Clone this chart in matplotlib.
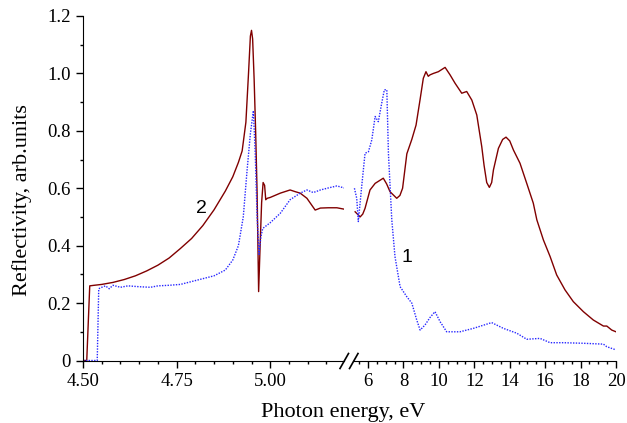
import matplotlib

matplotlib.use("Agg")
import matplotlib.pyplot as plt
import numpy as np
from matplotlib.lines import Line2D
from matplotlib.ticker import MultipleLocator, FixedLocator

# curve 2 (red), fine scale 4.5-5.2 eV
red_e_left = [4.500, 4.510, 4.518, 4.530, 4.550, 4.580, 4.610, 4.640, 4.670, 4.700,
              4.730, 4.760, 4.790, 4.820, 4.850, 4.880, 4.900, 4.915, 4.925, 4.935,
              4.942, 4.947, 4.950, 4.953, 4.957, 4.961, 4.965, 4.969, 4.973, 4.977,
              4.981, 4.985, 4.988, 4.992, 5.000, 5.027, 5.053, 5.067, 5.080, 5.098,
              5.120, 5.134, 5.155, 5.178, 5.198]
red_r_left = [0.0, 0.0, 0.26, 0.262, 0.265, 0.272, 0.282, 0.295, 0.312, 0.332,
              0.357, 0.39, 0.425, 0.47, 0.525, 0.59, 0.64, 0.69, 0.73, 0.83,
              1.00, 1.13, 1.15, 1.12, 0.98, 0.80, 0.58, 0.24, 0.40, 0.55,
              0.62, 0.61, 0.56, 0.565, 0.568, 0.583, 0.594, 0.588, 0.583, 0.565,
              0.524, 0.531, 0.532, 0.532, 0.527]

# curve 1 (blue), fine scale
blue_e_left = [4.500, 4.538, 4.542, 4.550, 4.560, 4.570, 4.580, 4.600, 4.620, 4.650,
               4.680, 4.700, 4.730, 4.760, 4.790, 4.820, 4.850, 4.880, 4.900, 4.915,
               4.928, 4.938, 4.947, 4.955, 4.960, 4.965, 4.970, 4.975, 4.980, 4.990,
               5.000, 5.027, 5.053, 5.080, 5.098, 5.115, 5.134, 5.155, 5.178, 5.198]
blue_r_left = [0.0, 0.0, 0.25, 0.255, 0.26, 0.25, 0.262, 0.255, 0.26, 0.257,
               0.255, 0.26, 0.262, 0.265, 0.275, 0.285, 0.295, 0.315, 0.35, 0.40,
               0.50, 0.66, 0.79, 0.87, 0.72, 0.50, 0.37, 0.43, 0.46, 0.47,
               0.48, 0.513, 0.56, 0.583, 0.594, 0.585, 0.594, 0.601, 0.608, 0.601]

# curve 2 (red), coarse scale 5.2-20 eV
red_e_right = [5.27, 5.40, 5.55, 5.70, 5.83, 6.11, 6.40, 6.86, 7.05, 7.24, 7.62, 7.80,
               7.95, 8.19, 8.47, 8.71, 8.94, 9.12, 9.27, 9.40, 9.50, 9.69, 9.97, 10.35,
               10.63, 10.91, 11.29, 11.57, 11.86, 12.14, 12.42, 12.55, 12.70, 12.85,
               12.98, 13.08, 13.36, 13.60, 13.79, 14.00, 14.21, 14.58, 14.96, 15.33,
               15.53, 15.90, 16.28, 16.65, 17.12, 17.59, 18.16, 18.72, 19.29, 19.48,
               19.76, 20.0]
red_r_right = [0.518, 0.51, 0.50, 0.51, 0.53, 0.594, 0.617, 0.635, 0.615, 0.588,
               0.565, 0.575, 0.60, 0.72, 0.77, 0.82, 0.91, 0.983, 1.006, 0.99,
               0.995, 1.0, 1.006, 1.021, 0.995, 0.966, 0.931, 0.937, 0.907, 0.855,
               0.745, 0.68, 0.62, 0.603, 0.62, 0.664, 0.739, 0.77, 0.778, 0.765,
               0.733, 0.687, 0.617, 0.548, 0.49, 0.42, 0.362, 0.298, 0.246, 0.205,
               0.17, 0.141, 0.12, 0.12, 0.106, 0.10]

# curve 1 (blue), coarse scale
blue_e_right = [5.23, 5.36, 5.45, 5.64, 5.83, 6.02, 6.21, 6.40, 6.58, 6.77,
                6.92, 7.06, 7.15, 7.34, 7.52, 7.81, 8.19, 8.47, 8.75, 8.94,
                9.22, 9.50, 9.78, 10.07, 10.44, 11.19, 11.95, 12.98, 13.64, 14.40,
                14.96, 15.71, 16.28, 17.03, 18.16, 19.29, 19.48, 20.0]
blue_r_right = [0.60, 0.565, 0.484, 0.606, 0.722, 0.727, 0.768, 0.85, 0.832, 0.896,
                0.943, 0.943, 0.722, 0.49, 0.362, 0.257, 0.222, 0.2, 0.141, 0.106,
                0.124, 0.15, 0.17, 0.135, 0.10, 0.10, 0.112, 0.132, 0.112, 0.095,
                0.074, 0.077, 0.062, 0.062, 0.06, 0.057, 0.048, 0.037]

left_ticks = [4.50, 4.75, 5.00]
left_labels = ["4.50", "4.75", "5.00"]
right_ticks = [6, 8, 10, 12, 14, 16, 18, 20]
y_ticks = [0, 0.2, 0.4, 0.6, 0.8, 1.0, 1.2]
y_labels = ["0", "0.2", "0.4", "0.6", "0.8", "1.0", "1.2"]

RED = "#800000"
BLUE = "#2828ff"
SERIF = ["Liberation Serif", "DejaVu Serif"]

W, H = 627, 423
fig = plt.figure(figsize=(W / 100, H / 100), dpi=100)


def px_rect(x0, x1, y_top, y_bot):
    return [x0 / W, 1 - y_bot / H, (x1 - x0) / W, (y_bot - y_top) / H]


ax_l = fig.add_axes(px_rect(83, 344, 16, 360.5))
ax_r = fig.add_axes(px_rect(353, 616, 16, 360.5))

ax_l.plot(red_e_left, red_r_left, color=RED, lw=1.0)
ax_l.plot(blue_e_left, blue_r_left, color=BLUE, lw=1.0, ls=(0, (1, 1)))
ax_r.plot(red_e_right, red_r_right, color=RED, lw=1.0)
ax_r.plot(blue_e_right, blue_r_right, color=BLUE, lw=1.0, ls=(0, (1, 1)))

ax_l.set_xlim(4.5, 5.197)
ax_r.set_xlim(5.15, 20)
for ax in (ax_l, ax_r):
    ax.set_ylim(0, 1.2)
    ax.spines["top"].set_visible(False)
    ax.spines["right"].set_visible(False)
    ax.tick_params(which="major", direction="out", length=5, width=1, labelsize=13.5, pad=4)
    ax.tick_params(which="minor", direction="out", length=2.5, width=1)

ax_l.xaxis.set_major_locator(FixedLocator(left_ticks))
ax_l.set_xticklabels(left_labels, family=SERIF, fontsize=13.5)
ax_l.xaxis.set_minor_locator(MultipleLocator(0.05))
ax_l.yaxis.set_major_locator(FixedLocator(y_ticks))
ax_l.set_yticklabels(y_labels, family=SERIF, fontsize=13.5)
ax_l.yaxis.set_minor_locator(MultipleLocator(0.1))

ax_r.xaxis.set_major_locator(FixedLocator(right_ticks))
ax_r.set_xticklabels([str(t) for t in right_ticks], family=SERIF, fontsize=13.5)
ax_r.xaxis.set_minor_locator(MultipleLocator(0.5))
ax_r.spines["left"].set_visible(False)
ax_r.tick_params(axis="y", which="both", left=False, labelleft=False)

# axis break marks
for x0 in (340, 349.5):
    fig.add_artist(Line2D([x0 / W, (x0 + 8.5) / W], [1 - 368.5 / H, 1 - 353.5 / H],
                          color="black", lw=1.2, transform=fig.transFigure))

fig.text(22 / W, 1 - 200 / H, "Reflectivity, arb.units", rotation=90, family=SERIF,
         fontsize=16, ha="center", va="center")
fig.text(343 / W, 1 - 412 / H, "Photon energy, eV", family=SERIF, fontsize=16,
         ha="center", va="center")

ax_l.text(4.817, 0.53, "2", family=["Liberation Sans", "DejaVu Sans"], fontsize=14,
          ha="center", va="center")
ax_r.text(8.2, 0.36, "1", family=["Liberation Sans", "DejaVu Sans"], fontsize=14,
          ha="center", va="center")

fig.savefig("out.png", dpi=100)
